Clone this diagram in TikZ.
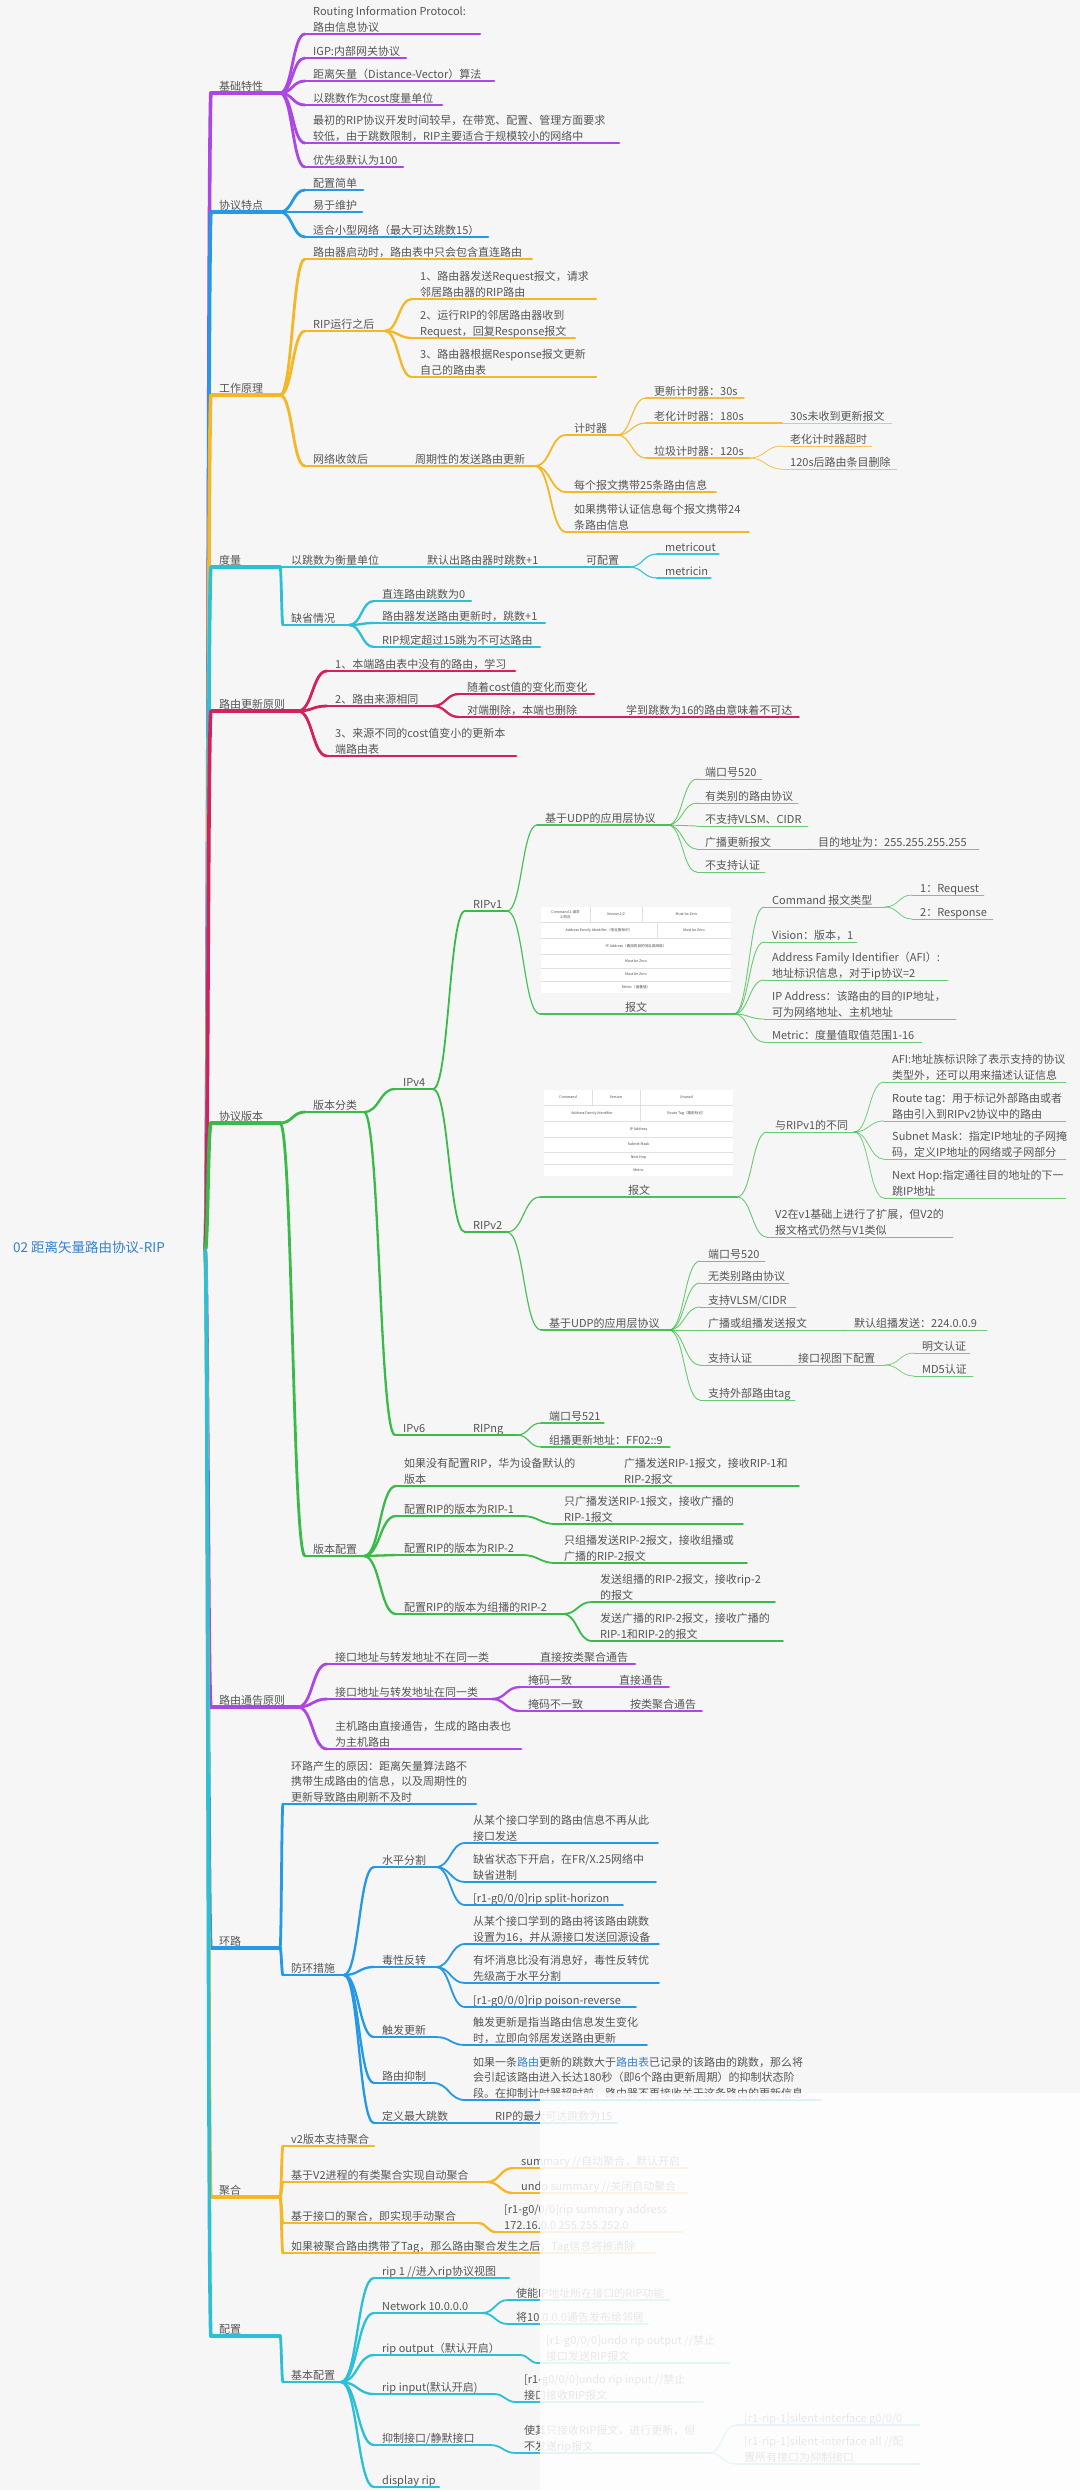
\documentclass[tikz,border=0pt]{standalone}
\usepackage{fontspec}
\setmainfont{Noto Sans CJK SC}
\usepackage{xcolor}
\usepackage{tikz}
\usetikzlibrary{calc}
\definecolor{bgpaper}{RGB}{245,246,245}
\definecolor{mappurple}{RGB}{172,70,228}
\definecolor{mapblue}{RGB}{38,152,232}
\definecolor{maporange}{RGB}{246,183,38}
\definecolor{mapcyan}{RGB}{44,192,214}
\definecolor{mapred}{RGB}{212,32,92}
\definecolor{mapgreen}{RGB}{58,186,72}
\definecolor{maptext}{RGB}{85,85,85}
\definecolor{rootblue}{RGB}{52,130,210}

% topic: name, x, underline y, underline end, line style, text
\newcommand\mmtopic[6]{%
  \node[txt, anchor=south west] (#1) at (#2, #3+2) {#6\strut};
  \coordinate (#1-s) at (#2-8, #3);
  \coordinate (#1-e) at (#4, #3);
  \draw[#5] (#1-s) -- (#1-e);
}
% curved branch from parent end to child start
\newcommand\mmlink[3]{%
  \draw[#1] let \p1=(#2), \p2=(#3) in
    (\p1) .. controls ({(\x1+\x2)/2},\y1) and ({(\x1+\x2)/2},\y2) .. (\p2);
}

\begin{document}
\begin{tikzpicture}[x=1pt, y=-1pt, line cap=round,
  txt/.style={inner sep=0pt, align=left, text=maptext, font=\fontsize{11}{15.5}\selectfont},
  roottxt/.style={inner sep=0pt, text=rootblue, font=\fontsize{13.5}{16}\selectfont},
  bPu/.style={draw=mappurple}, bBl/.style={draw=mapblue}, bOr/.style={draw=maporange},
  bCy/.style={draw=mapcyan}, bRd/.style={draw=mapred}, bGr/.style={draw=mapgreen},
  l1/.style={line width=3.6pt}, l2/.style={line width=2.8pt}, l3/.style={line width=2.3pt},
  l4/.style={line width=1.8pt}, l5/.style={line width=1.2pt, draw opacity=.9},
  l6/.style={line width=0.9pt, draw opacity=.75}, l7/.style={line width=0.8pt, draw opacity=.7},
  l8/.style={line width=0.7pt, draw opacity=.7},
  cell/.style={draw=black!12, line width=0.6pt},
  celltxt/.style={inner sep=0pt, align=center, text=black!70, font=\fontsize{3.6}{4.4}\selectfont}]
\useasboundingbox (0,0) rectangle (1080,2490);
\fill[bgpaper] (0,0) rectangle (1080,2490);

% root
\node[roottxt, anchor=west] (root) at (13,1247) {02 距离矢量路由协议-RIP};
\coordinate (root-e) at (205,1250);

% categories
\mmtopic{cat1}{219}{93}{280}{bPu,l1}{基础特性}
\mmtopic{cat2}{219}{212}{280}{bBl,l1}{协议特点}
\mmtopic{cat3}{219}{395}{280}{bOr,l1}{工作原理}
\mmtopic{cat4}{219}{567}{280}{bCy,l1}{度量}
\mmtopic{cat5}{219}{711}{298}{bRd,l1}{路由更新原则}
\mmtopic{cat6}{219}{1123}{280}{bGr,l1}{协议版本}
\mmtopic{cat7}{219}{1707}{298}{bPu,l1}{路由通告原则}
\mmtopic{cat8}{219}{1948}{280}{bBl,l1}{环路}
\mmtopic{cat9}{219}{2197}{280}{bOr,l1}{聚合}
\mmtopic{cat10}{219}{2336}{280}{bCy,l1}{配置}
\mmlink{bPu,l1}{root-e}{cat1-s}
\mmlink{bBl,l1}{root-e}{cat2-s}
\mmlink{bOr,l1}{root-e}{cat3-s}
\mmlink{bCy,l1}{root-e}{cat4-s}
\mmlink{bRd,l1}{root-e}{cat5-s}
\mmlink{bGr,l1}{root-e}{cat6-s}
\mmlink{bPu,l1}{root-e}{cat7-s}
\mmlink{bBl,l1}{root-e}{cat8-s}
\mmlink{bOr,l1}{root-e}{cat9-s}
\mmlink{bCy,l1}{root-e}{cat10-s}

% 基础特性
\mmtopic{b1}{313}{34}{480}{bPu,l2}{Routing Information Protocol:\\路由信息协议}
\mmtopic{b2}{313}{58}{406}{bPu,l2}{IGP:内部网关协议}
\mmtopic{b3}{313}{81}{494}{bPu,l2}{距离矢量（Distance-Vector）算法}
\mmtopic{b4}{313}{105}{442}{bPu,l2}{以跳数作为cost度量单位}
\mmtopic{b5}{313}{143}{619}{bPu,l2}{最初的RIP协议开发时间较早，在带宽、配置、管理方面要求\\较低，由于跳数限制，RIP主要适合于规模较小的网络中}
\mmtopic{b6}{313}{167}{403}{bPu,l2}{优先级默认为100}
\foreach \k in {b1,b2,b3,b4,b5,b6} {\mmlink{bPu,l2}{cat1-e}{\k-s}}

% 协议特点
\mmtopic{p1}{313}{190}{363}{bBl,l2}{配置简单}
\mmtopic{p2}{313}{212}{362}{bBl,l2}{易于维护}
\mmtopic{p3}{313}{237}{488}{bBl,l2}{适合小型网络（最大可达跳数15）}
\foreach \k in {p1,p2,p3} {\mmlink{bBl,l2}{cat2-e}{\k-s}}

% 工作原理
\mmtopic{w1}{313}{259}{532}{bOr,l2}{路由器启动时，路由表中只会包含直连路由}
\mmtopic{w2}{313}{331}{385}{bOr,l2}{RIP运行之后}
\mmtopic{w3}{313}{466}{407}{bOr,l2}{网络收敛后}
\foreach \k in {w1,w2,w3} {\mmlink{bOr,l2}{cat3-e}{\k-s}}
\mmtopic{w21}{420}{299}{596}{bOr,l3}{1、路由器发送Request报文，请求\\邻居路由器的RIP路由}
\mmtopic{w22}{420}{338}{575}{bOr,l3}{2、运行RIP的邻居路由器收到\\Request，回复Response报文}
\mmtopic{w23}{420}{377}{596}{bOr,l3}{3、路由器根据Response报文更新\\自己的路由表}
\foreach \k in {w21,w22,w23} {\mmlink{bOr,l3}{w2-e}{\k-s}}
\mmtopic{w31}{415}{466}{535}{bOr,l3}{周期性的发送路由更新}
\mmlink{bOr,l3}{w3-e}{w31-s}
\mmtopic{w311}{574}{435}{617}{bOr,l4}{计时器}
\mmtopic{w312}{574}{492}{716}{bOr,l4}{每个报文携带25条路由信息}
\mmtopic{w313}{574}{532}{749}{bOr,l4}{如果携带认证信息每个报文携带24\\条路由信息}
\foreach \k in {w311,w312,w313} {\mmlink{bOr,l4}{w31-e}{\k-s}}
\mmtopic{t1}{654}{398}{744}{bOr,l5}{更新计时器：30s}
\mmtopic{t2}{654}{423}{782}{bOr,l5}{老化计时器：180s}
\mmtopic{t3}{654}{458}{749}{bOr,l5}{垃圾计时器：120s}
\foreach \k in {t1,t2,t3} {\mmlink{bOr,l5}{w311-e}{\k-s}}
\mmtopic{t21}{790}{423}{892}{bOr,l6}{30s未收到更新报文}
\mmlink{bOr,l6}{t2-e}{t21-s}
\mmtopic{t31}{790}{446}{872}{bOr,l6}{老化计时器超时}
\mmtopic{t32}{790}{469}{897}{bOr,l6}{120s后路由条目删除}
\mmlink{bOr,l6}{t3-e}{t31-s}
\mmlink{bOr,l6}{t3-e}{t32-s}

% 度量
\mmtopic{d1}{291}{567}{419}{bCy,l2}{以跳数为衡量单位}
\mmtopic{d2}{291}{625}{349}{bCy,l2}{缺省情况}
\mmlink{bCy,l2}{cat4-e}{d1-s}
\mmlink{bCy,l2}{cat4-e}{d2-s}
\mmtopic{d11}{427}{567}{578}{bCy,l3}{默认出路由器时跳数+1}
\mmlink{bCy,l3}{d1-e}{d11-s}
\mmtopic{d111}{586}{567}{629}{bCy,l4}{可配置}
\mmlink{bCy,l4}{d11-e}{d111-s}
\mmtopic{d1111}{665}{554}{719}{bCy,l5}{metricout}
\mmtopic{d1112}{665}{578}{711}{bCy,l5}{metricin}
\mmlink{bCy,l5}{d111-e}{d1111-s}
\mmlink{bCy,l5}{d111-e}{d1112-s}
\mmtopic{d21}{382}{601}{471}{bCy,l3}{直连路由跳数为0}
\mmtopic{d22}{382}{623}{545}{bCy,l3}{路由器发送路由更新时，跳数+1}
\mmtopic{d23}{382}{647}{540}{bCy,l3}{RIP规定超过15跳为不可达路由}
\foreach \k in {d21,d22,d23} {\mmlink{bCy,l3}{d2-e}{\k-s}}

% 路由更新原则
\mmtopic{u1}{335}{671}{515}{bRd,l2}{1、本端路由表中没有的路由，学习}
\mmtopic{u2}{335}{706}{433}{bRd,l2}{2、路由来源相同}
\mmtopic{u3}{335}{756}{516}{bRd,l2}{3、来源不同的cost值变小的更新本\\端路由表}
\foreach \k in {u1,u2,u3} {\mmlink{bRd,l2}{cat5-e}{\k-s}}
\mmtopic{u21}{467}{694}{594}{bRd,l3}{随着cost值的变化而变化}
\mmtopic{u22}{467}{717}{618}{bRd,l3}{对端删除，本端也删除}
\mmlink{bRd,l3}{u2-e}{u21-s}
\mmlink{bRd,l3}{u2-e}{u22-s}
\mmtopic{u221}{626}{717}{799}{bRd,l4}{学到跳数为16的路由意味着不可达}
\mmlink{bRd,l4}{u22-e}{u221-s}

% 协议版本
\mmtopic{v1}{313}{1112}{364}{bGr,l2}{版本分类}
\mmtopic{v2}{313}{1556}{364}{bGr,l2}{版本配置}
\mmlink{bGr,l2}{cat6-e}{v1-s}
\mmlink{bGr,l2}{cat6-e}{v2-s}
\mmtopic{v11}{403}{1089}{433}{bGr,l3}{IPv4}
\mmtopic{v12}{403}{1435}{465}{bGr,l3}{IPv6}
\mmlink{bGr,l3}{v1-e}{v11-s}
\mmlink{bGr,l3}{v1-e}{v12-s}
\mmtopic{v111}{473}{911}{507}{bGr,l4}{RIPv1}
\mmtopic{v112}{473}{1232}{507}{bGr,l4}{RIPv2}
\mmlink{bGr,l4}{v11-e}{v111-s}
\mmlink{bGr,l4}{v11-e}{v112-s}
% RIPv1
\mmtopic{v1111}{545}{825}{668}{bGr,l5}{基于UDP的应用层协议}
\mmlink{bGr,l5}{v111-e}{v1111-s}
\mmtopic{a1}{705}{779}{762}{bGr,l6}{端口号520}
\mmtopic{a2}{705}{803}{798}{bGr,l6}{有类别的路由协议}
\mmtopic{a3}{705}{826}{808}{bGr,l6}{不支持VLSM、CIDR}
\mmtopic{a4}{705}{849}{810}{bGr,l6}{广播更新报文}
\mmtopic{a5}{705}{872}{765}{bGr,l6}{不支持认证}
\foreach \k in {a1,a2,a3,a4,a5} {\mmlink{bGr,l6}{v1111-e}{\k-s}}
\mmtopic{a41}{818}{849}{979}{bGr,l7}{目的地址为：255.255.255.255}
\mmlink{bGr,l7}{a4-e}{a41-s}
% RIPv1 packet
\fill[white] (541,907) rectangle (731,993);
\foreach \yy in {922,938,954,968,981} {\draw[cell] (541,\yy) -- (731,\yy);}
\draw[cell] (590,907) -- (590,922);
\draw[cell] (642,907) -- (642,922);
\draw[cell] (657,922) -- (657,938);
\node[celltxt] (ta1) at (565.5,914.5) {Command 1:请求\\2:响应};
\node[celltxt] (ta2) at (616,914.5) {Version1/2};
\node[celltxt] (ta3) at (686.5,914.5) {Must be Zero};
\node[celltxt] (ta4) at (599,930) {Address Family Identifier（地址族标识）};
\node[celltxt] (ta5) at (694,930) {Must be Zero};
\node[celltxt] (ta6) at (636,946) {IP Address（路由的目的地址或网络）};
\node[celltxt] (ta7) at (636,961) {Must be Zero};
\node[celltxt] (ta8) at (636,974.5) {Must be Zero};
\node[celltxt] (ta9) at (636,987) {Metric（度量值）};
\node[txt, anchor=south] (pk1) at (636,1016) {报文\strut};
\coordinate (pk1-s) at (540,1014);
\coordinate (pk1-e) at (734,1014);
\draw[bGr,l5] (pk1-s) -- (pk1-e);
\mmlink{bGr,l5}{v111-e}{pk1-s}
\mmtopic{pc1}{772}{907}{885}{bGr,l6}{Command 报文类型}
\mmtopic{pc2}{772}{942}{857}{bGr,l6}{Vision：版本，1}
\mmtopic{pc3}{772}{980}{948}{bGr,l6}{Address Family Identifier（AFI）:\\地址标识信息，对于ip协议=2}
\mmtopic{pc4}{772}{1019}{956}{bGr,l6}{IP Address：该路由的目的IP地址，\\可为网络地址、主机地址}
\mmtopic{pc5}{772}{1042}{922}{bGr,l6}{Metric：度量值取值范围1-16}
\foreach \k in {pc1,pc2,pc3,pc4,pc5} {\mmlink{bGr,l6}{pk1-e}{\k-s}}
\mmtopic{pc11}{920}{895}{984}{bGr,l7}{1：Request}
\mmtopic{pc12}{920}{919}{993}{bGr,l7}{2：Response}
\mmlink{bGr,l7}{pc1-e}{pc11-s}
\mmlink{bGr,l7}{pc1-e}{pc12-s}
% RIPv2 packet
\fill[white] (544,1090) rectangle (733,1176);
\foreach \yy in {1105,1121,1137,1152,1164} {\draw[cell] (544,\yy) -- (733,\yy);}
\draw[cell] (592,1090) -- (592,1105);
\draw[cell] (640,1090) -- (640,1121);
\node[celltxt] (tb1) at (568,1097.5) {Command};
\node[celltxt] (tb2) at (616,1097.5) {Version};
\node[celltxt] (tb3) at (686.5,1097.5) {Unused};
\node[celltxt] (tb4) at (592,1113) {Address Family Identifier};
\node[celltxt] (tb5) at (686.5,1113) {Route Tag（路由标记）};
\node[celltxt] (tb6) at (638.5,1129) {IP Address};
\node[celltxt] (tb7) at (638.5,1144.5) {Subnet Mask};
\node[celltxt] (tb8) at (638.5,1158) {Next Hop};
\node[celltxt] (tb9) at (638.5,1170) {Metric};
\node[txt, anchor=south] (pk2) at (639,1199) {报文\strut};
\coordinate (pk2-s) at (540,1197);
\coordinate (pk2-e) at (737,1197);
\draw[bGr,l5] (pk2-s) -- (pk2-e);
\mmlink{bGr,l5}{v112-e}{pk2-s}
\mmtopic{e1}{775}{1132}{854}{bGr,l6}{与RIPv1的不同}
\mmtopic{e2}{775}{1237}{953}{bGr,l6}{V2在v1基础上进行了扩展，但V2的\\报文格式仍然与V1类似}
\mmlink{bGr,l6}{pk2-e}{e1-s}
\mmlink{bGr,l6}{pk2-e}{e2-s}
\mmtopic{e11}{892}{1082}{1066}{bGr,l7}{AFI:地址族标识除了表示支持的协议\\类型外，还可以用来描述认证信息}
\mmtopic{e12}{892}{1121}{1066}{bGr,l7}{Route tag：用于标记外部路由或者\\路由引入到RIPv2协议中的路由}
\mmtopic{e13}{892}{1159}{1066}{bGr,l7}{Subnet Mask：指定IP地址的子网掩\\码，定义IP地址的网络或子网部分}
\mmtopic{e14}{892}{1198}{1066}{bGr,l7}{Next Hop:指定通往目的地址的下一\\跳IP地址}
\foreach \k in {e11,e12,e13,e14} {\mmlink{bGr,l7}{e1-e}{\k-s}}
\mmtopic{f}{549}{1330}{669}{bGr,l5}{基于UDP的应用层协议}
\mmlink{bGr,l5}{v112-e}{f-s}
\mmtopic{f1}{708}{1261}{765}{bGr,l6}{端口号520}
\mmtopic{f2}{708}{1283}{789}{bGr,l6}{无类别路由协议}
\mmtopic{f3}{708}{1307}{796}{bGr,l6}{支持VLSM/CIDR}
\mmtopic{f4}{708}{1330}{846}{bGr,l6}{广播或组播发送报文}
\mmtopic{f5}{708}{1365}{790}{bGr,l6}{支持认证}
\mmtopic{f6}{708}{1400}{795}{bGr,l6}{支持外部路由tag}
\foreach \k in {f1,f2,f3,f4,f5,f6} {\mmlink{bGr,l6}{f-e}{\k-s}}
\mmtopic{f41}{854}{1330}{987}{bGr,l7}{默认组播发送：224.0.0.9}
\mmlink{bGr,l7}{f4-e}{f41-s}
\mmtopic{f51}{798}{1365}{885}{bGr,l7}{接口视图下配置}
\mmlink{bGr,l7}{f5-e}{f51-s}
\mmtopic{f511}{922}{1353}{970}{bGr,l8}{明文认证}
\mmtopic{f512}{922}{1376}{973}{bGr,l8}{MD5认证}
\mmlink{bGr,l8}{f51-e}{f511-s}
\mmlink{bGr,l8}{f51-e}{f512-s}
% IPv6
\mmtopic{v121}{473}{1435}{517}{bGr,l4}{RIPng}
\mmlink{bGr,l4}{v12-e}{v121-s}
\mmtopic{g1}{549}{1423}{604}{bGr,l5}{端口号521}
\mmtopic{g2}{549}{1447}{670}{bGr,l5}{组播更新地址：FF02::9}
\mmlink{bGr,l5}{v121-e}{g1-s}
\mmlink{bGr,l5}{v121-e}{g2-s}
% 版本配置
\mmtopic{h1}{404}{1486}{616}{bGr,l3}{如果没有配置RIP，华为设备默认的\\版本}
\mmtopic{h2}{404}{1516}{522}{bGr,l3}{配置RIP的版本为RIP-1}
\mmtopic{h3}{404}{1555}{522}{bGr,l3}{配置RIP的版本为RIP-2}
\mmtopic{h4}{404}{1614}{563}{bGr,l3}{配置RIP的版本为组播的RIP-2}
\foreach \k in {h1,h2,h3,h4} {\mmlink{bGr,l3}{v2-e}{\k-s}}
\mmtopic{h11}{624}{1486}{799}{bGr,l4}{广播发送RIP-1报文，接收RIP-1和\\RIP-2报文}
\mmtopic{h21}{564}{1524}{743}{bGr,l4}{只广播发送RIP-1报文，接收广播的\\RIP-1报文}
\mmtopic{h31}{564}{1563}{747}{bGr,l4}{只组播发送RIP-2报文，接收组播或\\广播的RIP-2报文}
\mmtopic{h41}{600}{1602}{775}{bGr,l4}{发送组播的RIP-2报文，接收rip-2\\的报文}
\mmtopic{h42}{600}{1641}{783}{bGr,l4}{发送广播的RIP-2报文，接收广播的\\RIP-1和RIP-2的报文}
\mmlink{bGr,l4}{h1-e}{h11-s}
\mmlink{bGr,l4}{h2-e}{h21-s}
\mmlink{bGr,l4}{h3-e}{h31-s}
\mmlink{bGr,l4}{h4-e}{h41-s}
\mmlink{bGr,l4}{h4-e}{h42-s}

% 路由通告原则
\mmtopic{n1}{335}{1664}{532}{bPu,l2}{接口地址与转发地址不在同一类}
\mmtopic{n2}{335}{1699}{492}{bPu,l2}{接口地址与转发地址在同一类}
\mmtopic{n3}{335}{1749}{521}{bPu,l2}{主机路由直接通告，生成的路由表也\\为主机路由}
\foreach \k in {n1,n2,n3} {\mmlink{bPu,l2}{cat7-e}{\k-s}}
\mmtopic{n11}{540}{1664}{635}{bPu,l3}{直接按类聚合通告}
\mmlink{bPu,l3}{n1-e}{n11-s}
\mmtopic{n21}{528}{1687}{611}{bPu,l3}{掩码一致}
\mmtopic{n22}{528}{1711}{622}{bPu,l3}{掩码不一致}
\mmlink{bPu,l3}{n2-e}{n21-s}
\mmlink{bPu,l3}{n2-e}{n22-s}
\mmtopic{n211}{619}{1687}{669}{bPu,l4}{直接通告}
\mmtopic{n221}{630}{1711}{702}{bPu,l4}{按类聚合通告}
\mmlink{bPu,l4}{n21-e}{n211-s}
\mmlink{bPu,l4}{n22-e}{n221-s}

% 环路
\mmtopic{r1}{291}{1804}{476}{bBl,l2}{环路产生的原因：距离矢量算法路不\\携带生成路由的信息，以及周期性的\\更新导致路由刷新不及时}
\mmtopic{r2}{291}{1975}{344}{bBl,l2}{防环措施}
\mmlink{bBl,l2}{cat8-e}{r1-s}
\mmlink{bBl,l2}{cat8-e}{r2-s}
\mmtopic{r21}{382}{1867}{436}{bBl,l3}{水平分割}
\mmtopic{r22}{382}{1967}{436}{bBl,l3}{毒性反转}
\mmtopic{r23}{382}{2037}{436}{bBl,l3}{触发更新}
\mmtopic{r24}{382}{2083}{433}{bBl,l3}{路由抑制}
\mmtopic{r25}{382}{2123}{487}{bBl,l3}{定义最大跳数}
\foreach \k in {r21,r22,r23,r24,r25} {\mmlink{bBl,l3}{r2-e}{\k-s}}
\mmtopic{r211}{473}{1843}{658}{bBl,l4}{从某个接口学到的路由信息不再从此\\接口发送}
\mmtopic{r212}{473}{1882}{656}{bBl,l4}{缺省状态下开启，在FR/X.25网络中\\缺省进制}
\mmtopic{r213}{473}{1905}{623}{bBl,l4}{[r1-g0/0/0]rip split-horizon}
\foreach \k in {r211,r212,r213} {\mmlink{bBl,l4}{r21-e}{\k-s}}
\mmtopic{r221}{473}{1944}{659}{bBl,l4}{从某个接口学到的路由将该路由跳数\\设置为16，并从源接口发送回源设备}
\mmtopic{r222}{473}{1983}{659}{bBl,l4}{有坏消息比没有消息好，毒性反转优\\先级高于水平分割}
\mmtopic{r223}{473}{2007}{636}{bBl,l4}{[r1-g0/0/0]rip poison-reverse}
\foreach \k in {r221,r222,r223} {\mmlink{bBl,l4}{r22-e}{\k-s}}
\mmtopic{r231}{473}{2045}{647}{bBl,l4}{触发更新是指当路由信息发生变化\\时，立即向邻居发送路由更新}
\mmlink{bBl,l4}{r23-e}{r231-s}
\mmtopic{r241}{473}{2100}{821}{bBl,l4}{如果一条\textcolor{rootblue}{路由}更新的跳数大于\textcolor{rootblue}{路由表}已记录的该路由的跳数，那么将\\会引起该路由进入长达180秒（即6个路由更新周期）的抑制状态阶\\段。在抑制计时器超时前，路由器不再接收关于这条路由的更新信息}
\mmlink{bBl,l4}{r24-e}{r241-s}
\mmtopic{r251}{495}{2123}{617}{bBl,l4}{RIP的最大可达跳数为15}
\mmlink{bBl,l4}{r25-e}{r251-s}

% 聚合
\mmtopic{j1}{291}{2146}{374}{bOr,l2}{v2版本支持聚合}
\mmtopic{j2}{291}{2182}{487}{bOr,l2}{基于V2进程的有类聚合实现自动聚合}
\mmtopic{j3}{291}{2223}{478}{bOr,l2}{基于接口的聚合，即实现手动聚合}
\mmtopic{j4}{291}{2253}{655}{bOr,l2}{如果被聚合路由携带了Tag，那么路由聚合发生之后，Tag信息将被清除}
\foreach \k in {j1,j2,j3,j4} {\mmlink{bOr,l2}{cat9-e}{\k-s}}
\mmtopic{j21}{521}{2168}{688}{bOr,l3}{summary  //自动聚合，默认开启}
\mmtopic{j22}{521}{2193}{688}{bOr,l3}{undo summary  //关闭自动聚合}
\mmlink{bOr,l3}{j2-e}{j21-s}
\mmlink{bOr,l3}{j2-e}{j22-s}
\mmtopic{j31}{504}{2232}{683}{bOr,l3}{[r1-g0/0/0]rip summary address\\172.16.0.0 255.255.252.0}
\mmlink{bOr,l3}{j3-e}{j31-s}

% 配置
\mmtopic{k}{291}{2382}{341}{bCy,l2}{基本配置}
\mmlink{bCy,l2}{cat10-e}{k-s}
\mmtopic{k1}{382}{2278}{509}{bCy,l3}{rip 1  //进入rip协议视图}
\mmtopic{k2}{382}{2313}{482}{bCy,l3}{Network 10.0.0.0}
\mmtopic{k3}{382}{2355}{520}{bCy,l3}{rip output（默认开启）}
\mmtopic{k4}{382}{2394}{494}{bCy,l3}{rip input(默认开启)}
\mmtopic{k5}{382}{2445}{490}{bCy,l3}{抑制接口/静默接口}
\mmtopic{k6}{382}{2487}{439}{bCy,l3}{display rip}
\foreach \k in {k1,k2,k3,k4,k5,k6} {\mmlink{bCy,l3}{k-e}{\k-s}}
\mmtopic{k21}{516}{2300}{670}{bCy,l4}{使能IP地址所在接口的RIP功能}
\mmtopic{k22}{516}{2324}{648}{bCy,l4}{将10.0.0.0通告发布给邻居}
\mmlink{bCy,l4}{k2-e}{k21-s}
\mmlink{bCy,l4}{k2-e}{k22-s}
\mmtopic{k31}{546}{2363}{729}{bCy,l4}{[r1-g0/0/0]undo rip output //禁止\\接口发送RIP报文}
\mmlink{bCy,l4}{k3-e}{k31-s}
\mmtopic{k41}{524}{2402}{703}{bCy,l4}{[r1-g0/0/0]undo rip input //禁止\\接口接收RIP报文}
\mmlink{bCy,l4}{k4-e}{k41-s}
\mmtopic{k51}{524}{2453}{709}{bCy,l4}{使其只接收RIP报文，进行更新，但\\不发送rip报文}
\mmlink{bCy,l4}{k5-e}{k51-s}
\mmtopic{k511}{744}{2425}{920}{bCy,l5}{[r1-rip-1]silent-interface g0/0/0}
\mmtopic{k512}{744}{2464}{920}{bCy,l5}{[r1-rip-1]silent-interface all //配\\置所有接口为抑制接口}
\mmlink{bCy,l5}{k51-e}{k511-s}
\mmlink{bCy,l5}{k51-e}{k512-s}

% faded lower right
\fill[white, opacity=0.86] (540,2093) rectangle (1080,2490);
\end{tikzpicture}
\end{document}
